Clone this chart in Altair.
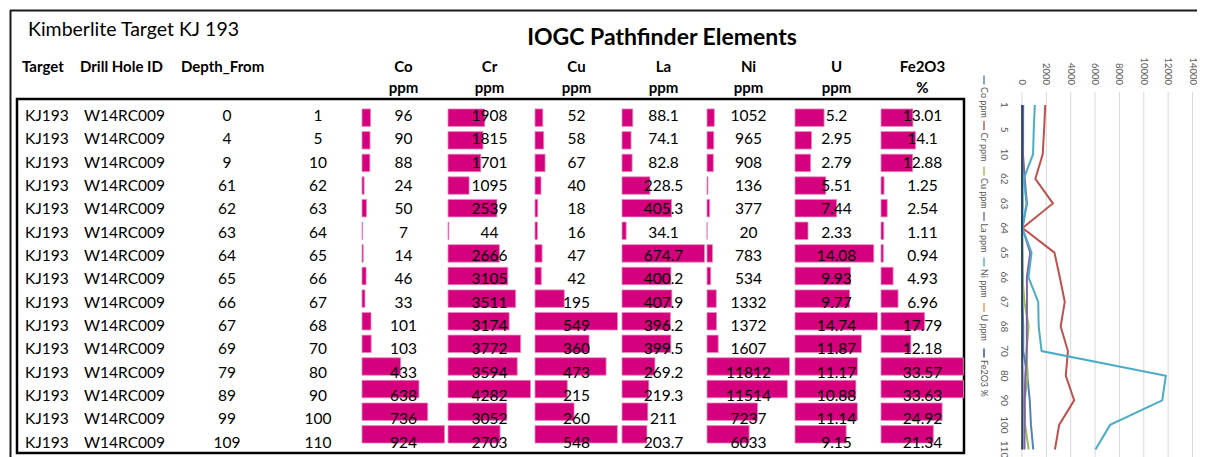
import altair as alt
import pandas as pd

# ---------------- data ----------------
TITLE_LEFT = "Kimberlite Target KJ 193"
TITLE_MAIN = "IOGC Pathfinder Elements"
HEAD_LEFT = ["Target", "Drill Hole ID", "Depth_From"]
ELEMENTS = ["Co", "Cr", "Cu", "La", "Ni", "U", "Fe2O3"]
UNITS = ["ppm", "ppm", "ppm", "ppm", "ppm", "ppm", "%"]
SERIES = ["Co ppm", "Cr ppm", "Cu ppm", "La ppm", "Ni ppm", "U ppm", "Fe2O3 %"]
SERIES_COLORS = ["#4F81BD", "#C0504D", "#9BBB59", "#8064A2", "#4BACC6", "#F79646", "#1F497D"]

target = ["KJ193"] * 15
hole = ["W14RC009"] * 15
depth_from = [0, 4, 9, 61, 62, 63, 64, 65, 66, 67, 69, 79, 89, 99, 109]
depth_to = [1, 5, 10, 62, 63, 64, 65, 66, 67, 68, 70, 80, 90, 100, 110]
co = [96, 90, 88, 24, 50, 7, 14, 46, 33, 101, 103, 433, 638, 736, 924]
cr = [1908, 1815, 1701, 1095, 2539, 44, 2666, 3105, 3511, 3174, 3772, 3594, 4282, 3052, 2703]
cu = [52, 58, 67, 40, 18, 16, 47, 42, 195, 549, 360, 473, 215, 260, 548]
la = [88.1, 74.1, 82.8, 228.5, 405.3, 34.1, 674.7, 400.2, 407.9, 396.2, 399.5, 269.2, 219.3, 211, 203.7]
ni = [1052, 965, 908, 136, 377, 20, 783, 534, 1332, 1372, 1607, 11812, 11514, 7237, 6033]
u = [5.2, 2.95, 2.79, 5.51, 7.44, 2.33, 14.08, 9.93, 9.77, 14.74, 11.87, 11.17, 10.88, 11.14, 9.15]
fe2o3 = [13.01, 14.1, 12.88, 1.25, 2.54, 1.11, 0.94, 4.93, 6.96, 17.79, 12.18, 33.57, 33.63, 24.92, 21.34]
VALUE_TICKS = [0, 2000, 4000, 6000, 8000, 10000, 12000, 14000]

VALUES = {"Co": co, "Cr": cr, "Cu": cu, "La": la, "Ni": ni, "U": u, "Fe2O3": fe2o3}


def fmt(v):
    return f"{v:g}"


n = len(target)
table = pd.DataFrame({
    "row": list(range(n)),
    "target": target,
    "hole": hole,
    "dfrom": [str(v) for v in depth_from],
    "dto": [str(v) for v in depth_to],
})
for e in ELEMENTS:
    table[e] = VALUES[e]
    table[e + "_lbl"] = [fmt(v) for v in VALUES[e]]

one = pd.DataFrame({"k": [0]})

# ---------------- layout (page pixels -> chart pixels) ----------------
W, H = 1189, 449


def X(px):
    return px - 8


def Y(py):
    return py - 8


FONT = "Lato"
MAGENTA = "#D5007D"
ROW_Y = alt.Scale(domain=[0, n - 1], range=[Y(116), Y(116 + 23.33 * (n - 1))], nice=False, zero=False)
yrow = alt.Y("row:Q", scale=ROW_Y, axis=None)
BAR_START = [362, 448, 535, 622, 707, 795, 881]
BAR_W = 82.5

L = []

# outer frame
L.append(alt.Chart(one).mark_rule(color="#1a1a1a", strokeWidth=2).encode(
    x=alt.value(X(10)), x2=alt.value(W + 5), y=alt.value(Y(10.5)), y2=alt.value(Y(10.5))))
L.append(alt.Chart(one).mark_rule(color="#1a1a1a", strokeWidth=2).encode(
    x=alt.value(X(10.5)), x2=alt.value(X(10.5)), y=alt.value(Y(10)), y2=alt.value(H + 5)))
# table box
L.append(alt.Chart(one).mark_rect(fillOpacity=0, stroke="#000000", strokeWidth=2.5).encode(
    x=alt.value(X(17)), x2=alt.value(X(964)), y=alt.value(Y(99)), y2=alt.value(Y(453))))

# titles
L.append(alt.Chart(one).mark_text(font=FONT, fontSize=19.5, align="left", baseline="middle", color="#000").encode(
    x=alt.value(X(28)), y=alt.value(Y(30)), text=alt.value(TITLE_LEFT)))
L.append(alt.Chart(one).mark_text(font=FONT, fontSize=23, fontWeight="bold", align="center", baseline="middle", color="#000").encode(
    x=alt.value(X(662)), y=alt.value(Y(38)), text=alt.value(TITLE_MAIN)))

# left headers
for name, xpos in zip(HEAD_LEFT, [22, 80, 181]):
    L.append(alt.Chart(one).mark_text(font=FONT, fontSize=15, fontWeight="bold", align="left", baseline="middle", color="#000").encode(
        x=alt.value(X(xpos)), y=alt.value(Y(67)), text=alt.value(name)))

# left text columns
for field, xpos, al in [("target", 25, "left"), ("hole", 84, "left"), ("dfrom", 227, "center"), ("dto", 318, "center")]:
    L.append(alt.Chart(table).mark_text(font=FONT, fontSize=15.5, align=al, baseline="middle", color="#000").encode(
        x=alt.value(X(xpos)), y=yrow, text=f"{field}:N"))

# element columns: data bars + values
for i, e in enumerate(ELEMENTS):
    s = BAR_START[i]
    c = s + 41.5
    sc = alt.Scale(domain=[0, max(VALUES[e])], range=[X(s), X(s) + BAR_W], nice=False, zero=True)
    L.append(alt.Chart(table).mark_bar(orient="horizontal", size=17.5, yOffset=-3.3, color=MAGENTA,
                                       stroke="#E58BBE", strokeWidth=0.8).encode(
        x=alt.X(f"{e}:Q", scale=sc, axis=None), y=yrow))
    L.append(alt.Chart(table).mark_text(font=FONT, fontSize=15.5, align="center", baseline="middle", color="#000").encode(
        x=alt.value(X(c)), y=yrow, text=f"{e}_lbl:N"))
    L.append(alt.Chart(one).mark_text(font=FONT, fontSize=15, fontWeight="bold", align="center", baseline="middle", color="#000").encode(
        x=alt.value(X(c)), y=alt.value(Y(67)), text=alt.value(e)))
    L.append(alt.Chart(one).mark_text(font=FONT, fontSize=15, fontWeight="bold", align="center", baseline="middle", color="#000").encode(
        x=alt.value(X(c)), y=alt.value(Y(88)), text=alt.value(UNITS[i])))

# ---------------- rotated line chart ----------------
VAL_SC = alt.Scale(domain=[0, 14000], range=[X(1022), X(1192.5)], nice=False, zero=False)
CAT_SC = alt.Scale(domain=[0, n - 1], range=[Y(105), Y(449.5)], nice=False, zero=False)
ticks = pd.DataFrame({"v": VALUE_TICKS, "lbl": [str(t) for t in VALUE_TICKS]})

L.append(alt.Chart(ticks).mark_rule(color="#D9D9D9", strokeWidth=1).encode(
    x=alt.X("v:Q", scale=VAL_SC, axis=None), y=alt.value(Y(92)), y2=alt.value(H + 5)))
L.append(alt.Chart(ticks).mark_text(font=FONT, fontSize=9.5, angle=90, align="right", baseline="middle", color="#595959").encode(
    x=alt.X("v:Q", scale=VAL_SC, axis=None), y=alt.value(Y(85)), text="lbl:N"))
L.append(alt.Chart(table).mark_text(font=FONT, fontSize=10, angle=90, align="center", baseline="middle", color="#595959").encode(
    x=alt.value(X(1004)), y=alt.Y("row:Q", scale=CAT_SC, axis=None), text="dto:N"))

for e, sname, col in zip(ELEMENTS, SERIES, SERIES_COLORS):
    d = pd.DataFrame({"row": list(range(n)), "value": VALUES[e]})
    L.append(alt.Chart(d).mark_line(color=col, strokeWidth=2).encode(
        x=alt.X("value:Q", scale=VAL_SC, axis=None),
        y=alt.Y("row:Q", scale=CAT_SC, axis=None),
        order="row:Q"))

leg = pd.DataFrame({"idx": list(range(len(SERIES))), "series": SERIES})
LEG_SYM = alt.Scale(domain=[0, len(SERIES) - 1], range=[Y(80), Y(353)], nice=False, zero=False)
LEG_TXT = alt.Scale(domain=[0, len(SERIES) - 1], range=[Y(87), Y(360)], nice=False, zero=False)
L.append(alt.Chart(leg).mark_tick(orient="vertical", size=9, thickness=2).encode(
    x=alt.value(X(984)), y=alt.Y("idx:Q", scale=LEG_SYM, axis=None),
    color=alt.Color("series:N", scale=alt.Scale(domain=SERIES, range=SERIES_COLORS), legend=None)))
L.append(alt.Chart(leg).mark_text(font=FONT, fontSize=9, angle=90, align="left", baseline="middle", color="#595959").encode(
    x=alt.value(X(984)), y=alt.Y("idx:Q", scale=LEG_TXT, axis=None), text="series:N"))

chart = alt.layer(*L).resolve_scale(x="independent", y="independent", color="independent").properties(
    width=W, height=H, padding=0, autosize=alt.AutoSizeParams(type="none")
).configure_view(stroke=None)

chart.save("out.html", embed_options={"renderer": "svg", "actions": False})
